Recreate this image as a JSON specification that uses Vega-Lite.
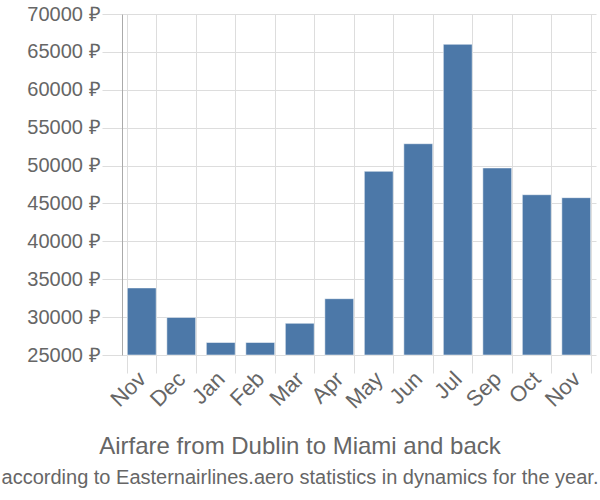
{
  "$schema": "https://vega.github.io/schema/vega-lite/v6.json",
  "width": 474,
  "height": 341,
  "autosize": {"type": "none"},
  "padding": {"left": 122, "top": 14, "right": 4, "bottom": 145},
  "background": "white",
  "data": {
    "values": [
      {"i": 0, "month": "Nov", "price": 33850},
      {"i": 1, "month": "Dec", "price": 29960},
      {"i": 2, "month": "Jan", "price": 26650},
      {"i": 3, "month": "Feb", "price": 26650},
      {"i": 4, "month": "Mar", "price": 29180},
      {"i": 5, "month": "Apr", "price": 32430},
      {"i": 6, "month": "May", "price": 49240},
      {"i": 7, "month": "Jun", "price": 52880},
      {"i": 8, "month": "Jul", "price": 66000},
      {"i": 9, "month": "Sep", "price": 49680},
      {"i": 10, "month": "Oct", "price": 46150},
      {"i": 11, "month": "Nov", "price": 45760}
    ]
  },
  "title": {
    "text": "Airfare from Dublin to Miami and back",
    "subtitle": "according to Easternairlines.aero statistics in dynamics for the year.",
    "orient": "bottom",
    "anchor": "middle",
    "dx": -59,
    "offset": 23,
    "font": "Liberation Sans",
    "fontSize": 24,
    "fontWeight": "normal",
    "color": "#666666",
    "subtitleFont": "Liberation Sans",
    "subtitleFontSize": 20,
    "subtitleColor": "#666666",
    "subtitlePadding": 9
  },
  "mark": {"type": "bar", "color": "#4c78a8", "stroke": "#ffffff", "strokeOpacity": 0.5, "strokeWidth": 1},
  "encoding": {
    "x": {
      "field": "i",
      "type": "ordinal",
      "scale": {"paddingInner": 0.27, "paddingOuter": 0.135},
      "axis": {
        "title": null,
        "labelExpr": "['Nov','Dec','Jan','Feb','Mar','Apr','May','Jun','Jul','Sep','Oct','Nov'][datum.value]",
        "labelAngle": -45,
        "labelAlign": "right",
        "labelBaseline": "middle",
        "labelFont": "Liberation Sans",
        "labelFontSize": 22,
        "labelColor": "#666666",
        "labelPadding": 2,
        "tickBand": "extent",
        "tickSize": 18,
        "tickColor": "#dddddd",
        "grid": true,
        "gridColor": "#dddddd",
        "domain": false
      }
    },
    "y": {
      "field": "price",
      "type": "quantitative",
      "scale": {"domain": [25000, 70000], "zero": false, "nice": false},
      "axis": {
        "title": null,
        "values": [25000, 30000, 35000, 40000, 45000, 50000, 55000, 60000, 65000, 70000],
        "labelExpr": "datum.value + ' ₽'",
        "labelFont": "Liberation Sans",
        "labelFontSize": 20,
        "labelColor": "#666666",
        "labelPadding": 2,
        "tickSize": 20,
        "tickColor": "#dddddd",
        "grid": true,
        "gridColor": "#dddddd",
        "domain": true,
        "domainColor": "#aaaaaa"
      }
    },
    "y2": {"datum": 25000}
  },
  "config": {
    "view": {"stroke": null}
  }
}
